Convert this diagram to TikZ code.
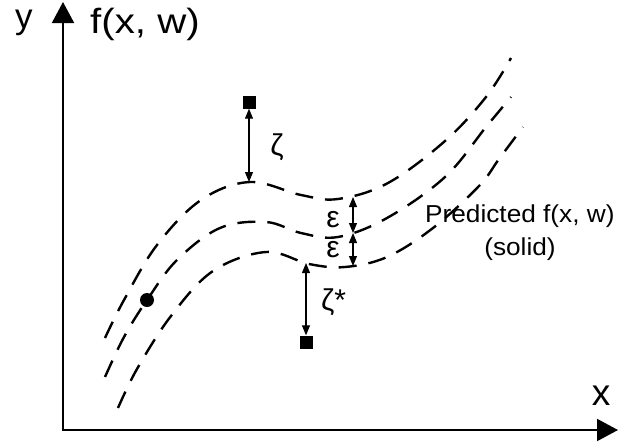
\documentclass[tikz,border=0pt]{standalone}
\usepackage{fontspec}
\usepackage{graphicx}
\setmainfont{Liberation Sans}
\usetikzlibrary{arrows.meta}
\begin{document}
\begin{tikzpicture}[x=1pt,y=-1pt,
  axis/.style={line width=2pt,{Triangle[length=21pt,width=22pt]}-{Triangle[length=21pt,width=22pt]}},
  band/.style={line width=2.4pt,dash pattern=on 18pt off 12pt},
  gap/.style={line width=1.1pt,{Triangle[length=10pt,width=8pt]}-{Triangle[length=10pt,width=8pt]}},
  obs/.style={rectangle,fill=black,minimum size=13pt,inner sep=0pt},
  biglbl/.style={inner sep=0pt,font=\fontsize{35}{40}\selectfont},
  greek/.style={inner sep=0pt,font=\fontsize{30}{34}\selectfont},
  note/.style={inner sep=0pt,font=\fontsize{24.5}{29}\selectfont}
]
\useasboundingbox (0,0) rectangle (619,445);
% axes
\coordinate (Ytip) at (63,2);
\coordinate (O) at (63,430);
\coordinate (Xtip) at (618,430);
\draw[axis] (Ytip) -- (O) -- (Xtip);
\node[biglbl,anchor=base west] (ylab) at (15,28) {y};
\node[biglbl,anchor=base west] (flab) at (90,33) {\scalebox{1.15}[1]{f(x, w)}};
\node[biglbl,anchor=base,font=\fontsize{37}{42}\selectfont] (xlab) at (601,405) {x};
% curves
\draw[band] plot[smooth,tension=0.6] coordinates {(105,338) (124,300) (157,245) (201,200) (250,182) (301,195) (338,199) (388,183) (445,141) (486,97) (511,58)};
\draw[band] plot[smooth,tension=0.6] coordinates {(105,377) (124,337) (147,300) (177,260) (220,228) (266,222) (301,233) (338,237) (387,218) (445,177) (486,127) (511,97)};
\draw[band] plot[smooth,tension=0.6] coordinates {(118,408) (137,369) (171,316) (213,271) (266,252) (309,264) (345,267) (387,257) (433,228) (479,186) (499,159) (523,127)};
% points
\node[obs] (sqA) at (249,102) {};
\node[obs] (sqB) at (306,342) {};
\node[circle,fill=black,minimum size=14pt,inner sep=0pt] (dot) at (147,300) {};
% gaps
\coordinate (pkA) at (249,182);
\coordinate (tA) at (353,197);
\coordinate (tB) at (353,233);
\coordinate (tC) at (353,266);
\coordinate (pkC) at (306,263);
\draw[gap] (sqA.south) -- (pkA);
\draw[gap] (tA) -- (tB);
\draw[gap] (tB) -- (tC);
\draw[gap] (pkC) -- (sqB.north);
\node[greek] (zeta) at (277,147) {ζ};
\node[greek] (epsA) at (333,220) {ε};
\node[greek] (epsB) at (333,250) {ε};
\node[greek,anchor=north west] (zetas) at (321,289) {ζ*};
\node[note,anchor=base west] (pred) at (425,222) {\scalebox{1.07}[1]{Predicted f(x, w)}};
\node[note,anchor=base] (solid) at (520,255) {\scalebox{1.07}[1]{(solid)}};
\end{tikzpicture}
\end{document}
